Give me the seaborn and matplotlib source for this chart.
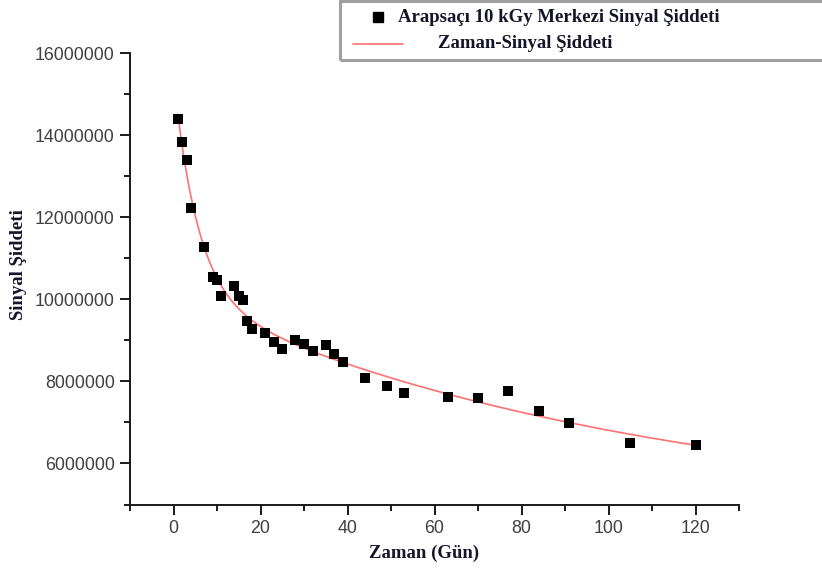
import numpy as np
import pandas as pd
import matplotlib
matplotlib.use("Agg")
import matplotlib.pyplot as plt
from matplotlib.lines import Line2D
from matplotlib.patches import Rectangle
from matplotlib.ticker import MultipleLocator
import seaborn as sns

# Centre signal intensity of the 10 kGy irradiated sample over storage time
days = [1, 2, 3, 4, 7, 9, 10, 11, 14, 15, 16, 17, 18, 21, 23, 25, 28, 30,
        32, 35, 37, 39, 44, 49, 53, 63, 70, 77, 84, 91, 105, 120]
signal = [14.40e6, 13.84e6, 13.40e6, 12.22e6, 11.28e6, 10.55e6, 10.48e6,
          10.08e6, 10.32e6, 10.08e6, 9.99e6, 9.47e6, 9.28e6, 9.18e6, 8.96e6,
          8.80e6, 9.01e6, 8.92e6, 8.75e6, 8.88e6, 8.67e6, 8.47e6, 8.08e6,
          7.88e6, 7.71e6, 7.63e6, 7.59e6, 7.76e6, 7.27e6, 6.98e6, 6.49e6,
          6.45e6]

x_ticks = [0, 20, 40, 60, 80, 100, 120]
y_ticks = [6000000, 8000000, 10000000, 12000000, 14000000, 16000000]

legend_points = "Arapsaçı 10 kGy Merkezi Sinyal Şiddeti"
legend_fit = "Zaman-Sinyal Şiddeti"
x_label = "Zaman (Gün)"
y_label = "Sinyal Şiddeti"

df = pd.DataFrame({"gun": days, "sinyal": signal})

# Second-order exponential decay fitted by least squares (grid over the two
# time constants, linear solve for the amplitudes and offset)
xd = np.asarray(days, float)
yd = np.asarray(signal, float)
best = None
for t1 in np.geomspace(0.3, 40, 120):
    for t2 in np.geomspace(5, 2000, 160):
        if t2 <= t1:
            continue
        A = np.column_stack([np.exp(-xd / t1), np.exp(-xd / t2), np.ones_like(xd)])
        coef, *_ = np.linalg.lstsq(A, yd, rcond=None)
        r = np.sum((A @ coef - yd) ** 2)
        if best is None or r < best[0]:
            best = (r, t1, t2, coef)
_, t1, t2, coef = best
xf = np.linspace(min(days), max(days), 400)
yf = coef[0] * np.exp(-xf / t1) + coef[1] * np.exp(-xf / t2) + coef[2]
fit_df = pd.DataFrame({"gun": xf, "sinyal": yf})

sns.set_style("ticks")
plt.rcParams["font.family"] = ["Liberation Sans", "DejaVu Sans"]

W, H = 822, 572
fig = plt.figure(figsize=(W / 100, H / 100), dpi=100)
ax = fig.add_axes([130 / W, 1 - 504.5 / H, (739 - 130) / W, (504.5 - 53.3) / H])

line_color = "#ff7070"
sns.lineplot(data=fit_df, x="gun", y="sinyal", ax=ax, color=line_color,
             linewidth=1.2, zorder=2)
sns.scatterplot(data=df, x="gun", y="sinyal", ax=ax, marker="s", s=55,
                color="black", linewidth=0, zorder=3)

ax.set_xlim(-10, 130)
ax.set_ylim(5000000, 16000000)
ax.set_xticks(x_ticks)
ax.set_yticks(y_ticks)
ax.set_yticklabels([str(v) for v in y_ticks])
ax.xaxis.set_minor_locator(MultipleLocator(10))
ax.yaxis.set_minor_locator(MultipleLocator(1000000))

for side in ("top", "right"):
    ax.spines[side].set_visible(False)
for side in ("left", "bottom"):
    ax.spines[side].set_linewidth(1.4)
    ax.spines[side].set_color("#1a1a1a")

ax.tick_params(axis="both", which="major", length=7, width=1.4,
               color="#1a1a1a", labelsize=12.8, labelcolor="#404040", pad=4)
ax.tick_params(axis="both", which="minor", length=4, width=1.4,
               color="#1a1a1a")

label_font = dict(family=["Liberation Serif", "DejaVu Serif"],
                  weight="bold", size=13.5, color="#15152a")
ax.set_xlabel(x_label, **label_font)
ax.set_ylabel(y_label, **label_font)
ax.xaxis.set_label_coords(0.483, -0.09)
ax.yaxis.set_label_coords(-0.169, 0.531)

# Legend box drawn in figure pixels
def fx(px):
    return px / W


def fy(py):
    return 1 - py / H


fig.add_artist(Rectangle((fx(340), fy(60)), fx(830) - fx(340), fy(1) - fy(60),
                         transform=fig.transFigure, fill=False,
                         edgecolor="#a0a0a0", linewidth=2.2, clip_on=False))
fig.add_artist(Line2D([fx(378)], [fy(17)], marker="s", markersize=6.5,
                      color="black", linestyle="none",
                      transform=fig.transFigure))
fig.add_artist(Line2D([fx(353), fx(403)], [fy(44), fy(44)], color=line_color,
                      linewidth=1.2, transform=fig.transFigure))
legend_font = dict(family=["Liberation Serif", "DejaVu Serif"],
                   weight="bold", size=13.5, color="#15152a", va="center",
                   ha="left")
fig.text(fx(398), fy(17.5), legend_points, **legend_font)
fig.text(fx(438), fy(43.5), legend_fit, **legend_font)

fig.savefig("out.png", dpi=100)
